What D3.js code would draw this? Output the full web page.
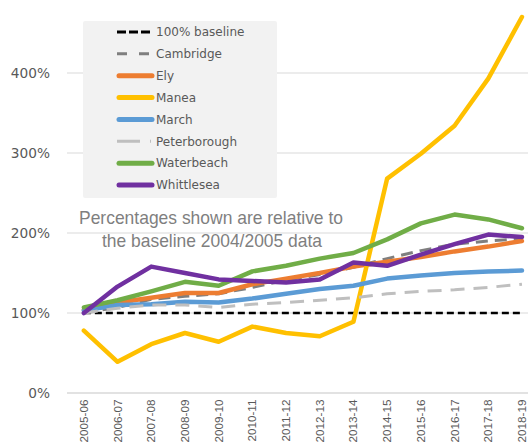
<!DOCTYPE html>
<html>
<head>
<meta charset="utf-8">
<script src="https://cdn.jsdelivr.net/npm/d3@7"></script>
<style>
  html, body { margin: 0; padding: 0; background: #fff; }
  svg { display: block; }
</style>
</head>
<body>
<svg id="chart" width="528" height="443"></svg>
<script>
// Financial years on the category axis
const years = ["2005-06","2006-07","2007-08","2008-09","2009-10","2010-11","2011-12",
               "2012-13","2013-14","2014-15","2015-16","2016-17","2017-18","2018-19"];

// Values as a percentage of the 2004/2005 baseline
const baseline     = [100,100,100,100,100,100,100,100,100,100,100,100,100,100];
const cambridge    = [100,107,117,121,124,132,141,148,157,168,178,186,190,193];
const ely          = [104,113,119,125,125,136,143,150,158,164,170,177,183,190];
const manea        = [78,39,61,75,64,83,75,71,89,268,299,334,393,470];
const march        = [103,110,111,114,113,118,124,130,134,143,147,150,152,153];
const peterborough = [100,106,110,110,107,111,113,116,119,124,127,129,132,136];
const waterbeach   = [107,116,127,139,134,152,159,168,175,192,212,223,217,206];
const whittlesea   = [100,133,158,150,142,140,138,142,163,159,173,186,198,195];

const yTicks = [0, 100, 200, 300, 400];

const series = [
  { name: "100% baseline", values: baseline,     color: "#000000", width: 2.6, dash: "7,4",  legendDash: "9,3" },
  { name: "Cambridge",     values: cambridge,    color: "#7f7f7f", width: 3,   dash: "12,7", legendDash: "10,12" },
  { name: "Ely",           values: ely,          color: "#ed7d31", width: 4.5 },
  { name: "Manea",         values: manea,        color: "#ffc000", width: 4.5 },
  { name: "March",         values: march,        color: "#5b9bd5", width: 4.5 },
  { name: "Peterborough",  values: peterborough, color: "#bfbfbf", width: 3,   dash: "14,9", legendDash: "23,10" },
  { name: "Waterbeach",    values: waterbeach,   color: "#70ad47", width: 4.5 },
  { name: "Whittlesea",    values: whittlesea,   color: "#7030a0", width: 4.5 }
];

const svg = d3.select("#chart");
const textColor = "#595959";

const x = d3.scalePoint().domain(years).range([67, 538.8]).padding(0.5);
const y = d3.scaleLinear().domain([0, 500]).range([393, -7]);

// Horizontal gridlines
svg.append("g").selectAll("line").data(yTicks).join("line")
  .attr("x1", 67).attr("x2", 528)
  .attr("y1", d => y(d)).attr("y2", d => y(d))
  .attr("stroke", "#d9d9d9").attr("stroke-width", d => d === 0 ? 1.5 : 1);

// Y axis labels
const yAxis = d3.axisLeft(y).tickValues(yTicks).tickFormat(d => d + "%").tickSize(0).tickPadding(0);
const gy = svg.append("g").attr("transform", "translate(50,0)").call(yAxis);
gy.select(".domain").remove();
gy.selectAll("text")
  .attr("fill", textColor)
  .style("font-family", "'DejaVu Sans', sans-serif")
  .style("font-size", "13.7px");

// X axis labels, rotated
const xAxis = d3.axisBottom(x).tickSize(0).tickPadding(0);
const gx = svg.append("g").attr("transform", "translate(0,399.5)").call(xAxis);
gx.select(".domain").remove();
gx.selectAll("text")
  .attr("transform", "rotate(-90)")
  .attr("text-anchor", "end")
  .attr("x", 0).attr("y", 0).attr("dy", "0.3em")
  .attr("fill", textColor)
  .style("font-family", "'Liberation Sans', Arial, sans-serif")
  .style("font-size", "11.7px");

// Legend
const legend = svg.append("g");
legend.append("rect")
  .attr("x", 83).attr("y", 21).attr("width", 194).attr("height", 177)
  .attr("rx", 2).attr("fill", "#f2f2f2");

const ly = d3.scalePoint().domain(series.map(s => s.name)).range([32, 185]);
const items = legend.selectAll("g.item").data(series).join("g")
  .attr("class", "item")
  .attr("transform", d => `translate(0,${ly(d.name)})`);
items.append("line")
  .attr("x1", d => d.dash ? 117 : 119).attr("x2", d => d.dash ? 151 : 152)
  .attr("y1", 0).attr("y2", 0)
  .attr("stroke", d => d.color)
  .attr("stroke-width", d => d.dash ? 3 : 5)
  .attr("stroke-linecap", d => d.dash ? "butt" : "round")
  .attr("stroke-dasharray", d => d.legendDash || null);
items.append("text")
  .attr("x", 156).attr("y", 0).attr("dy", "0.36em")
  .attr("fill", textColor)
  .style("font-family", "'DejaVu Sans', sans-serif")
  .style("font-size", "12px")
  .text(d => d.name);

// Note text
const note = svg.append("g")
  .attr("fill", "#7f7f7f")
  .style("font-family", "'Liberation Sans', Arial, sans-serif")
  .style("font-size", "18.5px");
note.append("text").attr("x", 211).attr("y", 224).attr("text-anchor", "middle")
  .attr("textLength", 264).attr("lengthAdjust", "spacingAndGlyphs")
  .text("Percentages shown are relative to");
note.append("text").attr("x", 212).attr("y", 246.5).attr("text-anchor", "middle")
  .attr("textLength", 220).attr("lengthAdjust", "spacingAndGlyphs")
  .text("the baseline 2004/2005 data");

// Series lines
const line = d3.line().x((d, i) => x(years[i])).y(d => y(d));
svg.append("g").selectAll("path").data(series).join("path")
  .attr("d", d => line(d.values))
  .attr("fill", "none")
  .attr("stroke", d => d.color)
  .attr("stroke-width", d => d.width)
  .attr("stroke-linejoin", "round")
  .attr("stroke-linecap", d => d.dash ? "butt" : "round")
  .attr("stroke-dasharray", d => d.dash || null);
</script>
</body>
</html>
